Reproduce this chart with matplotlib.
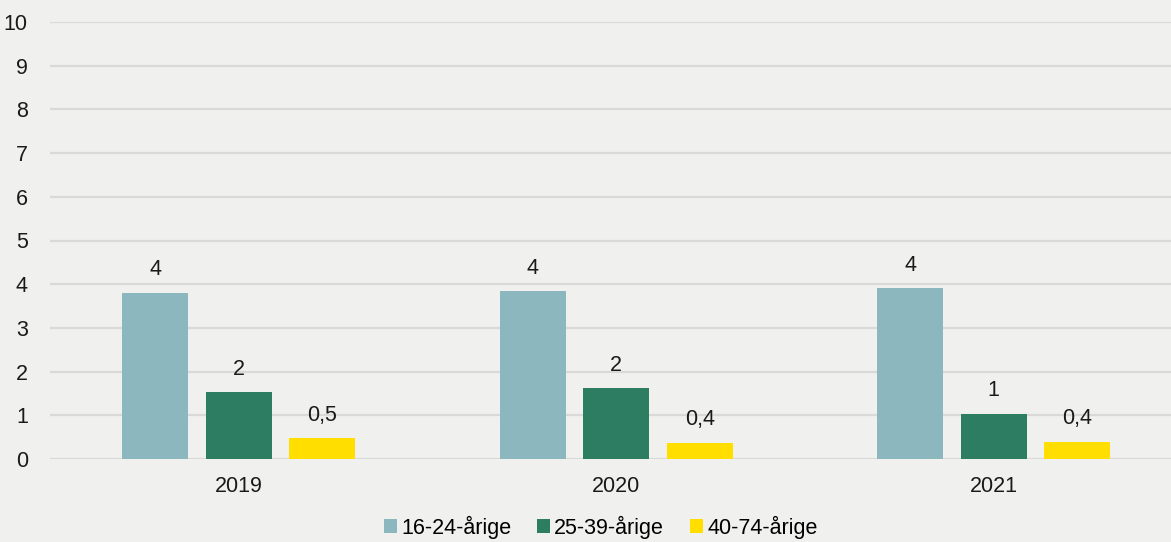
import numpy as np
import matplotlib.pyplot as plt

plt.rcParams['font.family'] = ['Liberation Sans', 'DejaVu Sans']

years = ['2019', '2020', '2021']
series = ['16-24-årige', '25-39-årige', '40-74-årige']
v_16_24 = [3.80, 3.84, 3.91]
v_25_39 = [1.53, 1.62, 1.03]
v_40_74 = [0.48, 0.37, 0.39]
labels_16_24 = ['4', '4', '4']
labels_25_39 = ['2', '2', '1']
labels_40_74 = ['0,5', '0,4', '0,4']

colors = ['#8DB7BE', '#2C7D62', '#FFDE00']
bg = '#F0F0EF'
fs = 15.5

fig = plt.figure(figsize=(11.71, 5.42), dpi=100, facecolor=bg)
ax = fig.add_axes([50 / 1171, 83 / 542, 1132.5 / 1171, 437 / 542], facecolor=bg)

x = np.arange(len(years))
width = 0.175
step = 0.221
data = [v_16_24, v_25_39, v_40_74]
labs = [labels_16_24, labels_25_39, labels_40_74]
for i, (vals, lab, col, name) in enumerate(zip(data, labs, colors, series)):
    bars = ax.bar(x + (i - 1) * step, vals, width, color=col, label=name, zorder=3)
    for b, t in zip(bars, lab):
        ax.annotate(t, (b.get_x() + b.get_width() / 2, b.get_height()),
                    xytext=(0, 9), textcoords='offset points',
                    ha='center', va='bottom', fontsize=fs, color='#1a1a1a')

ax.set_xlim(-0.5, 2.5)
ax.set_ylim(0, 10)
ax.set_yticks(range(0, 11))
ax.set_xticks(x)
ax.set_xticklabels(years)
ax.tick_params(axis='both', length=0, labelsize=fs, colors='#1a1a1a')
ax.tick_params(axis='y', pad=16)
ax.tick_params(axis='x', pad=12)
ax.grid(axis='y', color='#D9D9D9', linewidth=1.6, zorder=0)
for s in ax.spines.values():
    s.set_visible(False)

fig.legend(loc='lower center', bbox_to_anchor=(0.513, -0.03), ncol=3, frameon=False,
           fontsize=fs, handlelength=0.6, handleheight=0.6, handletextpad=0.2,
           columnspacing=1.2)

fig.savefig('out.png', dpi=100, facecolor=bg)
